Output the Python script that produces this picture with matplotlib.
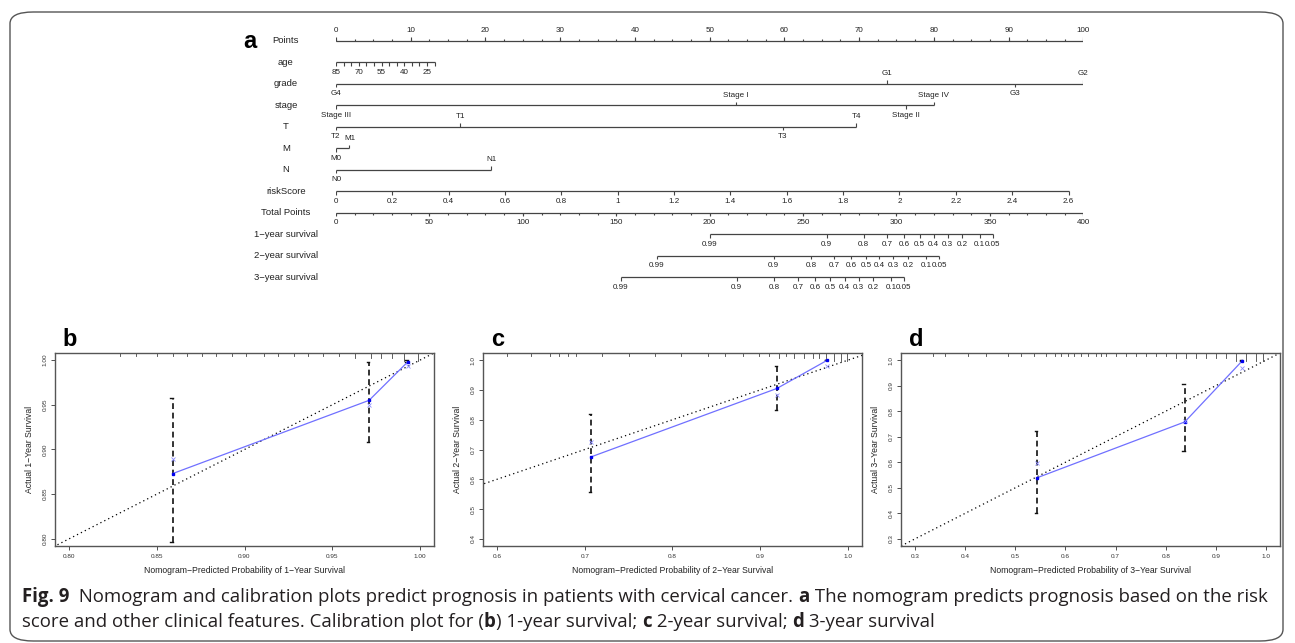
import matplotlib
matplotlib.use("Agg")
import matplotlib.pyplot as plt
import matplotlib.transforms as mtransforms
from matplotlib.patches import FancyBboxPatch
import numpy as np

plt.rcParams['font.family'] = ['Liberation Sans', 'DejaVu Sans']

# ---- nomogram data (points scale 0-100) ----
row_names = ['Points', 'age', 'grade', 'stage', 'T', 'M', 'N', 'riskScore',
             'Total Points', '1\u2212year survival', '2\u2212year survival', '3\u2212year survival']

points_major = np.arange(0, 101, 10)
points_minor = np.arange(0, 101, 2.5)

age_ticks = np.arange(85, 19, -5)
age_labels = [85, 70, 55, 40, 25]
age_points_max = 13.2          # points given to age 20 (age 85 -> 0)
age_min, age_max = 20, 85

grade_labels = ['G4', 'G1', 'G3', 'G2']
grade_points = [0, 73.7, 90.9, 100]
grade_side = ['below', 'above', 'below', 'above']

stage_labels = ['Stage III', 'Stage I', 'Stage II', 'Stage IV']
stage_points = [0, 53.5, 76.3, 80]
stage_side = ['below', 'above', 'below', 'above']

t_labels = ['T2', 'T1', 'T3', 'T4']
t_points = [0, 16.6, 59.8, 69.6]
t_side = ['below', 'above', 'below', 'above']

m_labels = ['M0', 'M1']
m_points = [0, 1.8]
m_side = ['below', 'above']

n_labels = ['N0', 'N1']
n_points = [0, 20.8]
n_side = ['below', 'above']

risk_ticks = np.round(np.arange(0, 2.61, 0.2), 1)
risk_points_per_unit = 37.7

total_major = np.arange(0, 401, 50)
total_minor = np.arange(0, 401, 10)
total_max = 400

surv_levels = ['0.99', '0.9', '0.8', '0.7', '0.6', '0.5', '0.4', '0.3', '0.2', '0.1', '0.05']
surv_1yr_total = [200.0, 262.6, 282.4, 294.9, 304.1, 312.4, 319.9, 327.4, 335.0, 344.5, 351.4]
surv_2yr_total = [171.7, 234.2, 254.2, 266.7, 275.6, 283.6, 290.9, 298.4, 306.4, 315.8, 322.9]
surv_3yr_total = [152.4, 214.5, 234.5, 247.2, 256.5, 264.5, 272.2, 279.7, 287.7, 297.2, 303.8]

# ---- calibration data ----
cal_pred_1 = [0.859, 0.971, 0.993]
cal_obs_1 = [0.873, 0.955, 0.998]
cal_bc_1 = [0.889, 0.950, 0.994]
cal_lo_1 = [0.796, 0.908, 0.998]
cal_hi_1 = [0.958, 0.998, 1.000]
rug_1 = [0.829, 0.838, 0.850, 0.859, 0.867, 0.876, 0.884, 0.893, 0.901, 0.911, 0.919,
         0.928, 0.936, 0.945, 0.954, 0.963, 0.972, 0.978, 0.984, 0.991, 0.999]
rug_h_1 = [1, 1, 1, 1, 1, 1, 1, 1, 1, 1, 1, 1, 1, 1, 1, 2, 2, 2, 2, 3, 3]

cal_pred_2 = [0.707, 0.919, 0.976]
cal_obs_2 = [0.675, 0.905, 0.999]
cal_bc_2 = [0.725, 0.883, 0.980]
cal_lo_2 = [0.556, 0.833, 0.999]
cal_hi_2 = [0.819, 0.980, 1.000]
rug_2 = [0.611, 0.639, 0.660, 0.671, 0.681, 0.690, 0.720, 0.750, 0.780, 0.810, 0.840,
         0.860, 0.880, 0.899, 0.910, 0.921, 0.929, 0.939, 0.950, 0.960, 0.967, 0.975,
         0.984, 0.992, 0.999]
rug_h_2 = [1, 1, 1, 1, 1, 1, 1, 1, 1, 1, 1, 1, 1, 1, 1, 2, 1, 2, 2, 2, 2, 2, 3, 3, 3]

cal_pred_3 = [0.543, 0.838, 0.953]
cal_obs_3 = [0.539, 0.758, 0.998]
cal_bc_3 = [0.598, 0.762, 0.968]
cal_lo_3 = [0.402, 0.645, 0.998]
cal_hi_3 = [0.722, 0.905, 1.000]
rug_3 = [0.335, 0.359, 0.405, 0.442, 0.485, 0.512, 0.538, 0.562, 0.579, 0.592, 0.605,
         0.618, 0.631, 0.645, 0.661, 0.671, 0.681, 0.700, 0.720, 0.740, 0.760, 0.780,
         0.800, 0.820, 0.840, 0.860, 0.880, 0.900, 0.920, 0.940, 0.960, 0.980, 0.995]
rug_h_3 = [1, 1, 1, 1, 1, 1, 1, 1, 1, 1, 1, 1, 1, 1, 1, 1, 1, 1, 1, 1, 1, 1,
           1, 2, 2, 2, 2, 2, 2, 3, 3, 3, 3]

W, H = 1295, 643
fig = plt.figure(figsize=(W / 100, H / 100), dpi=100)

# rounded frame around the whole figure
frame = FancyBboxPatch((10 / W, 2 / H), 1273 / W, 629 / H,
                       boxstyle="round,pad=0,rounding_size=0.018",
                       transform=fig.transFigure, fill=False,
                       edgecolor='#555555', linewidth=1.0)
fig.patches.append(frame)

# ---------------- panel a: nomogram ----------------
x0_px, x100_px = 336, 1083.3
row0_px, row_step = 40.7, 21.5
top_px, bot_px = 22, 300
ax_n = fig.add_axes([x0_px / W, 1 - bot_px / H, (x100_px - x0_px) / W, (bot_px - top_px) / H])
ax_n.set_xlim(0, 100)
ax_n.set_ylim((bot_px - row0_px) / row_step, (top_px - row0_px) / row_step)
ax_n.axis('off')

LC = '#444444'
TC = '#222222'
tick_len = 0.17
minor_len = 0.09
lab_off = 0.47
tick_fs = 5.8
row_fs = 6.8


def tick_row(row, xs, labels, sides, ln=tick_len):
    for x, lab, side in zip(xs, labels, sides):
        d = -1 if side == 'above' else 1
        ax_n.plot([x, x], [row, row + d * ln], color=LC, lw=0.8, solid_capstyle='butt')
        if lab is not None:
            ax_n.text(x, row + d * lab_off, lab, ha='center', va='center',
                      fontsize=tick_fs, color=TC)


def axis_line(row, xs):
    ax_n.plot([min(xs), max(xs)], [row, row], color=LC, lw=0.9, solid_capstyle='butt')


for i, name in enumerate(row_names):
    ax_n.text(-6.7, i, name, ha='center', va='center', fontsize=row_fs, color=TC)

# Points
axis_line(0, points_major)
tick_row(0, points_minor, [None] * len(points_minor), ['above'] * len(points_minor), minor_len)
tick_row(0, points_major, [str(v) for v in points_major], ['above'] * len(points_major))

# age
age_x = [(age_max - a) / (age_max - age_min) * age_points_max for a in age_ticks]
axis_line(1, age_x)
tick_row(1, age_x, [str(a) if a in age_labels else None for a in age_ticks],
         ['below'] * len(age_x))

# categorical rows
axis_line(2, grade_points)
tick_row(2, grade_points, grade_labels, grade_side)
axis_line(3, stage_points)
tick_row(3, stage_points, stage_labels, stage_side)
axis_line(4, t_points)
tick_row(4, t_points, t_labels, t_side)
axis_line(5, m_points)
tick_row(5, m_points, m_labels, m_side)
axis_line(6, n_points)
tick_row(6, n_points, n_labels, n_side)

# riskScore
risk_x = [r * risk_points_per_unit for r in risk_ticks]
axis_line(7, risk_x)
tick_row(7, risk_x, ['%g' % r for r in risk_ticks], ['below'] * len(risk_x))

# Total points
tot_x = [t * 100 / total_max for t in total_major]
tot_minor_x = [t * 100 / total_max for t in total_minor]
axis_line(8, tot_x)
tick_row(8, tot_minor_x, [None] * len(tot_minor_x), ['below'] * len(tot_minor_x), minor_len)
tick_row(8, tot_x, [str(t) for t in total_major], ['below'] * len(tot_x))

# survival rows
for row, tot in zip([9, 10, 11], [surv_1yr_total, surv_2yr_total, surv_3yr_total]):
    sx = [t * 100 / total_max for t in tot]
    axis_line(row, sx)
    tick_row(row, sx, surv_levels, ['below'] * len(sx))

fig.text(250 / W, 1 - 41 / H, 'a', fontsize=17, fontweight='bold', ha='center', va='center')

# ---------------- panels b, c, d: calibration ----------------
pan_w, pan_top, pan_bot = 379, 353, 546


def calib_panel(left_px, letter, year, pred, obs, bc, lo, hi, rug, rug_h,
                xlim, ylim, xticks, yticks, fmt):
    ax = fig.add_axes([left_px / W, 1 - pan_bot / H, pan_w / W, (pan_bot - pan_top) / H])
    ax.set_xlim(*xlim)
    ax.set_ylim(*ylim)
    for s in ax.spines.values():
        s.set_color('#555555')
        s.set_linewidth(1.0)
    ax.set_xticks(xticks)
    ax.set_yticks(yticks)
    ax.set_xticklabels([fmt % v for v in xticks])
    ax.set_yticklabels([fmt % v for v in yticks], rotation=90, va='center')
    ax.tick_params(direction='out', length=3, width=0.6, labelsize=4.6, pad=2.5,
                   colors='#333333')
    ax.set_xlabel('Nomogram\u2212Predicted Probability of %d\u2212Year Survival' % year,
                  fontsize=6.2, labelpad=5, color='#222222')
    ax.set_ylabel('Actual %d\u2212Year Survival' % year, fontsize=6.2, labelpad=6,
                  color='#222222')
    # ideal line
    ax.plot([0, 1.1], [0, 1.1], color='black', lw=0.9, ls=(0, (1, 2.5)))
    # error bars
    cap = (xlim[1] - xlim[0]) * 0.006
    for p, l, h in zip(pred, lo, hi):
        ax.plot([p, p], [l, h], color='#111111', lw=1.2, ls=(0, (3.5, 2.2)))
        ax.plot([p - cap, p], [h, h], color='#111111', lw=1.0)
        ax.plot([p - cap, p], [l, l], color='#111111', lw=1.0)
    # calibration curve
    ax.plot(pred, obs, color='#7070ff', lw=0.9)
    ax.plot(pred, obs, ls='none', marker='s', ms=1.9, color='#0000ee')
    ax.plot(pred, bc, ls='none', marker='x', ms=2.6, mew=0.6, color='#8c8cff')
    # spike histogram of predictions at the top
    trans = mtransforms.blended_transform_factory(ax.transData, ax.transAxes)
    for r, hgt in zip(rug, rug_h):
        ax.plot([r, r], [1.0, 1.0 - 0.013 * hgt], color='#444444', lw=0.6, transform=trans)
    fig.text((left_px + 15) / W, 1 - 339 / H, letter, fontsize=17, fontweight='bold',
             ha='center', va='center')
    return ax


calib_panel(55, 'b', 1, cal_pred_1, cal_obs_1, cal_bc_1, cal_lo_1, cal_hi_1, rug_1, rug_h_1,
            (0.792, 1.008), (0.792, 1.008), np.arange(0.80, 1.001, 0.05),
            np.arange(0.80, 1.001, 0.05), '%.2f')
calib_panel(483, 'c', 2, cal_pred_2, cal_obs_2, cal_bc_2, cal_lo_2, cal_hi_2, rug_2, rug_h_2,
            (0.584, 1.016), (0.376, 1.024), np.arange(0.6, 1.001, 0.1),
            np.arange(0.4, 1.001, 0.1), '%.1f')
calib_panel(901, 'd', 3, cal_pred_3, cal_obs_3, cal_bc_3, cal_lo_3, cal_hi_3, rug_3, rug_h_3,
            (0.272, 1.028), (0.272, 1.028), np.arange(0.3, 1.001, 0.1),
            np.arange(0.3, 1.001, 0.1), '%.1f')

# ---------------- caption ----------------
cap_font = ['Open Sans', 'DejaVu Sans']
cap_size = 13.4
cap_color = '#231f20'
renderer = fig.canvas.get_renderer()


def draw_runs(x_px, base_px, runs):
    x = x_px / W
    for s, bold in runs:
        t = fig.text(x, 1 - base_px / H, s, fontsize=cap_size, family=cap_font,
                     fontweight='bold' if bold else 'normal', color=cap_color,
                     ha='left', va='baseline')
        x += t.get_window_extent(renderer=renderer).width / fig.bbox.width


draw_runs(22, 602, [('Fig. 9', True),
                    ('  Nomogram and calibration plots predict prognosis in patients with cervical cancer. ', False),
                    ('a', True),
                    (' The nomogram predicts prognosis based on the risk', False)])
draw_runs(22, 627, [('score and other clinical features. Calibration plot for (', False),
                    ('b', True), (') 1-year survival; ', False), ('c', True),
                    (' 2-year survival; ', False), ('d', True), (' 3-year survival', False)])

fig.savefig('out.png', dpi=100)
